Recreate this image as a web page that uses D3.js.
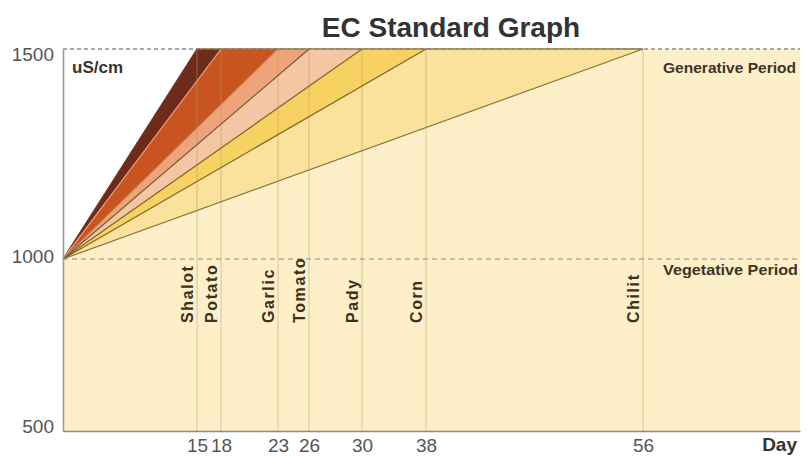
<!DOCTYPE html>
<html>
<head>
<meta charset="utf-8">
<script src="https://cdn.jsdelivr.net/npm/d3@7"></script>
<style>
  html, body { margin: 0; padding: 0; background: #fff; }
  svg { display: block; font-family: "Liberation Sans", Arial, sans-serif; }
</style>
</head>
<body>
<svg id="chart" width="811" height="456"></svg>
<script>
// ---- data ----
const crops = ["Shalot", "Potato", "Garlic", "Tomato", "Pady", "Corn", "Chilit"];
const cropDays = [15, 18, 23, 26, 30, 38, 56];
const dayTicks = [15, 18, 23, 26, 30, 38, 56];
const ecTicks = [500, 1000, 1500];
const ecStart = 1000;     // vegetative level (uS/cm)
const ecEnd = 1500;       // generative level (uS/cm)
const bandColors = ["#6e2b1b", "#c9541f", "#eea47b", "#f5c6a4", "#f8d163", "#fbe29c"];
const lineColors = ["#7a3020", "#e9a27e", "#c98a5c", "#6f5a2c", "#7a6526", "#7a6526", "#8a7438"];
const title = "EC Standard Graph";
const unitLabel = "uS/cm";
const xLabel = "Day";
const periodLabels = ["Generative Period", "Vegetative Period"];

// ---- scales (the reference axes are non-uniform, so piecewise) ----
const x = d3.scaleLinear()
  .domain([0, 15, 18, 23, 26, 30, 38, 56, 70])
  .range([63, 197, 221, 278, 309, 362, 426, 643, 800]);
const y = d3.scaleLinear()
  .domain([500, 1000, 1500])
  .range([431, 259, 49]);

const svg = d3.select("#chart");
const xMin = x.domain()[0], xMax = x.domain()[x.domain().length - 1];

// cream background
svg.append("rect")
  .attr("x", x(xMin)).attr("y", y(1500))
  .attr("width", x(xMax) - x(xMin)).attr("height", y(500) - y(1500))
  .attr("fill", "#fdf0c9");

// white region above steepest line
const poly = d3.line().x(d => x(d[0])).y(d => y(d[1]));
svg.append("path")
  .attr("d", poly([[0, ecStart], [0, ecEnd], [cropDays[0], ecEnd]]) + "Z")
  .attr("fill", "#ffffff");

// 1500 dashed reference line
svg.append("line")
  .attr("x1", x(xMin)).attr("x2", x(xMax))
  .attr("y1", y(ecEnd)).attr("y2", y(ecEnd))
  .attr("stroke", "#8d8d8d").attr("stroke-width", 1.5)
  .attr("stroke-dasharray", "4,3");

// fan bands
for (let i = 0; i < cropDays.length - 1; i++) {
  svg.append("path")
    .attr("d", poly([[0, ecStart], [cropDays[i], ecEnd], [cropDays[i + 1], ecEnd]]) + "Z")
    .attr("fill", bandColors[i]);
}

// 1000 dashed line
svg.append("line")
  .attr("x1", x(xMin)).attr("x2", x(xMax))
  .attr("y1", y(ecStart)).attr("y2", y(ecStart))
  .attr("stroke", "#b5ab95").attr("stroke-width", 1.6)
  .attr("stroke-dasharray", "5,4");

// vertical day lines
svg.selectAll("line.vday").data(cropDays).enter().append("line")
  .attr("class", "vday")
  .attr("x1", d => x(d)).attr("x2", d => x(d))
  .attr("y1", y(ecEnd)).attr("y2", y(500))
  .attr("stroke", "#b59a5c").attr("stroke-opacity", 0.35).attr("stroke-width", 1.5);

// crop lines
cropDays.forEach((d, i) => {
  svg.append("path")
    .attr("d", poly([[0, ecStart], [d, ecEnd]]))
    .attr("fill", "none")
    .attr("stroke", lineColors[i]).attr("stroke-width", 1.2);
});

// solid top edge of the fan
svg.append("line")
  .attr("x1", x(cropDays[0])).attr("x2", x(cropDays[cropDays.length - 1]))
  .attr("y1", y(ecEnd)).attr("y2", y(ecEnd))
  .attr("stroke", "#8a7a55").attr("stroke-width", 1.4);

// axes
const yAxis = svg.append("g")
  .attr("transform", `translate(${x(xMin)},0)`)
  .call(d3.axisLeft(y).tickValues(ecTicks).tickSize(0).tickPadding(9).tickFormat(d3.format("d")));
yAxis.select(".domain").attr("stroke", "#9a9a9a").attr("stroke-width", 1.6);
const yOff = {1500: 11, 1000: 3, 500: 1};
yAxis.selectAll(".tick text")
  .attr("font-size", 19).attr("fill", "#555")
  .attr("font-family", "'Liberation Sans', Arial, sans-serif")
  .attr("dy", d => yOff[d] + "px");

const xAxis = svg.append("g")
  .attr("transform", `translate(0,${y(500)})`)
  .call(d3.axisBottom(x).tickValues(dayTicks).tickSize(0).tickPadding(6));
xAxis.select(".domain").attr("stroke", "#8a8a8a").attr("stroke-width", 1.6);
xAxis.selectAll(".tick text")
  .attr("font-size", 19).attr("fill", "#555")
  .attr("font-family", "'Liberation Sans', Arial, sans-serif")
  .attr("dy", "0.78em");

// crop labels (rotated)
svg.selectAll("text.crop").data(crops).enter().append("text")
  .attr("class", "crop")
  .attr("transform", (d, i) => `translate(${x(cropDays[i]) - 4},${y(ecStart) + 64}) rotate(-90)`)
  .attr("text-anchor", "start")
  .attr("font-size", 16).attr("font-weight", "bold")
  .attr("letter-spacing", "1.6px")
  .attr("fill", "#3b3122")
  .text(d => d);

// title
svg.append("text")
  .attr("x", 451).attr("y", 37)
  .attr("text-anchor", "middle")
  .attr("font-size", 28).attr("font-weight", "bold").attr("fill", "#333")
  .text(title);

// unit label
svg.append("text")
  .attr("x", 72).attr("y", 73)
  .attr("font-size", 17).attr("font-weight", "bold").attr("fill", "#333")
  .text(unitLabel);

// x label
svg.append("text")
  .attr("x", 797).attr("y", 451)
  .attr("text-anchor", "end")
  .attr("font-size", 19).attr("font-weight", "bold").attr("fill", "#333")
  .text(xLabel);

// period labels
svg.append("text")
  .attr("x", 663).attr("y", y(ecEnd) + 24)
  .attr("font-size", 14).attr("font-weight", "bold").attr("fill", "#3d3526")
  .attr("textLength", 133).attr("lengthAdjust", "spacingAndGlyphs")
  .text(periodLabels[0]);
svg.append("text")
  .attr("x", 663).attr("y", y(ecStart) + 16)
  .attr("font-size", 14).attr("font-weight", "bold").attr("fill", "#3d3526")
  .attr("textLength", 135).attr("lengthAdjust", "spacingAndGlyphs")
  .text(periodLabels[1]);
</script>
</body>
</html>
